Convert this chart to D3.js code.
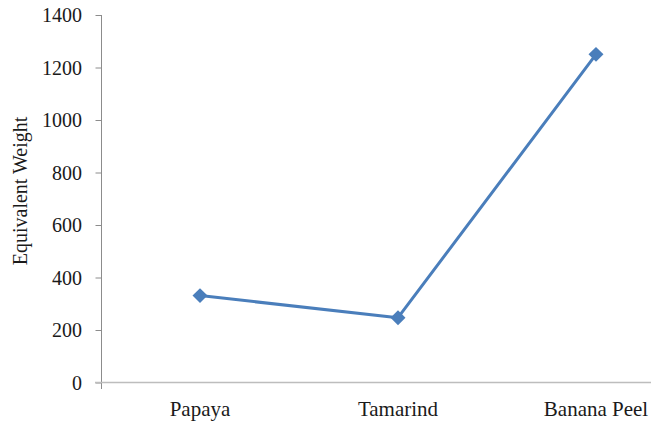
<!DOCTYPE html>
<html>
<head>
<meta charset="utf-8">
<script src="https://cdn.jsdelivr.net/npm/d3@7"></script>
</head>
<body style="margin:0;background:#fff">
<svg id="chart" width="651" height="423" style="display:block"></svg>
<script>
// Equivalent weight per source material
const categories = ["Papaya", "Tamarind", "Banana Peel"];
const equivalentWeight = [331, 247, 1250];
const yTicks = [0, 200, 400, 600, 800, 1000, 1200, 1400];
const yTitle = "Equivalent Weight";

const INK = "#1a1a1a";
const FACE = 'Tinos, "Liberation Serif", "Times New Roman", Times, serif';
const svg = d3.select("#chart");
const W = 651;

// serif face for every label
function serif(sel, size) {
  return sel
    .style("font-family", FACE)
    .style("font-size", size + "px")
    .style("fill", INK);
}

const x0 = 101, bandW = 198;
const x = d3.scaleBand()
  .domain(categories)
  .range([x0, x0 + bandW * categories.length])
  .paddingInner(0).paddingOuter(0);

const y = d3.scaleLinear().domain([0, 1400]).range([382.5, 15]);

// axis title
serif(svg.append("text")
  .attr("transform", `translate(27,191) rotate(-90)`)
  .attr("text-anchor", "middle"), 20)
  .text(yTitle);

// value axis
const yAxis = svg.append("g")
  .attr("transform", `translate(${x0},0)`)
  .call(d3.axisLeft(y).tickValues(yTicks).tickFormat(d3.format("d"))
    .tickSize(6).tickPadding(13).tickSizeOuter(0));
yAxis.attr("font-family", null).attr("font-size", null);
yAxis.select(".domain").attr("stroke", "#8c8c8c").attr("d", `M0.5,${y(1400)}V389`);
yAxis.selectAll(".tick line").attr("stroke", "#8c8c8c").attr("transform", "translate(0.5,0)");
serif(yAxis.selectAll(".tick text"), 20).attr("dy", "0.34em");

// category axis
svg.append("line")
  .attr("x1", x0 - 6).attr("x2", W)
  .attr("y1", y(0)).attr("y2", y(0))
  .attr("stroke", "#bdbdbd").attr("stroke-width", 1.5);

serif(svg.append("g")
  .selectAll("text")
  .data(categories)
  .join("text")
  .attr("x", d => x(d) + x.bandwidth() / 2)
  .attr("y", 416)
  .attr("text-anchor", "middle"), 21)
  .text(d => d);

// series
const pts = categories.map((c, i) => [x(c) + x.bandwidth() / 2, y(equivalentWeight[i])]);

svg.append("path")
  .attr("d", d3.line()(pts))
  .attr("fill", "none")
  .attr("stroke", "#4a7ebb")
  .attr("stroke-width", 3)
  .attr("stroke-linejoin", "round");

svg.append("g")
  .selectAll("path")
  .data(pts)
  .join("path")
  .attr("d", d3.symbol().type(d3.symbolSquare).size(112))
  .attr("transform", d => `translate(${d[0]},${d[1]}) rotate(45)`)
  .attr("fill", "#4a7ebb");
</script>
</body>
</html>
